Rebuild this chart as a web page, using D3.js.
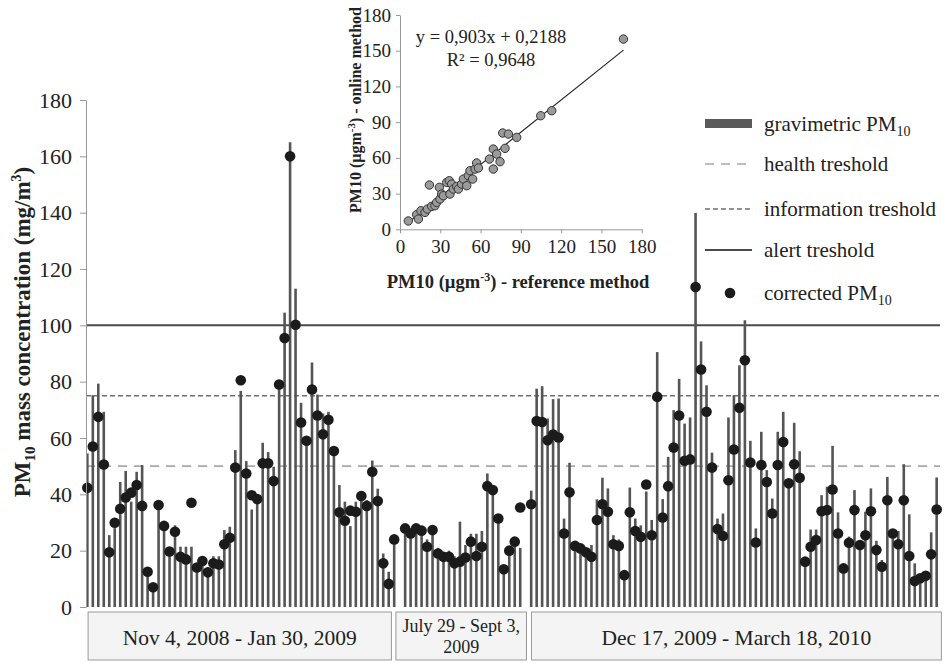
<!DOCTYPE html>
<html lang="en">
<head>
<meta charset="utf-8">
<script src="https://d3js.org/d3.v7.min.js"></script>
<style>
  body { margin: 0; background: #fff; }
  svg text { font-family: "Liberation Serif", "Times New Roman", serif; fill: #222; }
</style>
</head>
<body>
<script>
// gravimetric PM10 (bar tops) and corrected PM10 (dots), three campaigns
const seg1Grav = [54.5, 75.2, 79.3, 69.3, 25.5, 28, 44.4, 48.3, 37.4, 48, 50.4, 12.5, 7, 36, 28, 21, 29, 21.4, 21.4, 21.4,
  15, 17.5, 14, 18, 18, 27.3, 28.5, 55.7, 76.7, 51.8, 34.6, 37, 58.3, 55, 49.8, 77.5, 104.5, 165, 113, 72.5,
  60, 86.8, 75.4, 68.7, 69.3, 56.9, 43.3, 37.4, 28.7, 37.4, 40.9, 37.9, 52, 42, 19, 12.5, 24];
const seg1Corr = [42.3, 57, 67.5, 50.6, 19.4, 29.9, 34.9, 38.9, 40.6, 43.3, 35.9, 12.5, 7, 36.2, 28.8, 19.7, 26.7, 17.8, 16.9, 37,
  14, 16.3, 12.3, 15.5, 15.1, 22.3, 24.6, 49.5, 80.5, 47.4, 39.7, 38.3, 51, 51, 44.7, 79, 95.5, 160, 100.2, 65.5,
  59, 77.2, 68, 61.3, 66.5, 55.4, 33.6, 30.6, 34.2, 33.8, 39.4, 35.9, 48, 37.6, 15.5, 8.2, 24];

const seg2Grav = [28, 26, 28, 27, 24, 27, 21, 19, 20, 18, 30.3, 22, 26, 26, 27, 47.4, 41, 32, 14, 20, 24, 21];
const seg2Corr = [27.9, 26.1, 27.9, 27.1, 21.4, 27.3, 19, 17.8, 17.8, 15.5, 16.1, 17.6, 23.2, 18.1, 21.4, 42.9, 41.5, 31.4, 13.4, 20, 23.2, 35.3];

const seg3Grav = [41.3, 77.5, 78.4, 66.9, 73.8, 74, 31.4, 51.2, 23, 22, 21, 22, 38.2, 45.9, 42.1, 25.5, 24, 12, 42.4, 31.4,
  29, 41, 30.9, 90.5, 38.3, 53.3, 69.9, 81, 65.1, 67.3, 139.9, 94.3, 78.7, 54.8, 31.4, 33.2, 67.3, 75.2, 85.8, 101.8,
  59, 27.9, 62.2, 48.6, 38.5, 62.2, 69.3, 45, 65.4, 55.3, 17, 27.5, 27.5, 39.7, 42.7, 57.2, 33.6, 14.5, 25, 41.5,
  23, 33.8, 42.1, 23.5, 16.7, 46.2, 27, 27, 50.7, 32.9, 15.5, 11, 12, 26.5, 46];
const seg3Corr = [36.5, 66, 65.7, 59.2, 61.2, 60.2, 26.1, 40.7, 21.7, 20.8, 19.4, 17.8, 30.9, 36.5, 33.8, 22.3, 21.7, 11.3, 33.6, 27,
  24.9, 43.5, 25.5, 74.6, 31.8, 42.9, 56.6, 68, 51.9, 52.4, 113.6, 84.3, 69.3, 49.5, 27.7, 25.2, 45, 55.9, 70.7, 87.6,
  51.3, 22.9, 50.4, 44.4, 33.2, 50.4, 58.6, 43.9, 50.7, 45.9, 16.1, 21.4, 23.8, 34, 34.4, 41.7, 26.1, 13.7, 22.8, 34.4,
  22, 25.5, 34, 20.2, 14.3, 37.9, 26.1, 22.3, 37.9, 18.1, 9.2, 10.2, 11.1, 18.7, 34.6];

const thresholds = [
  {name: "health", value: 50},
  {name: "information", value: 75},
  {name: "alert", value: 100}
];
const yTicks = [0, 20, 40, 60, 80, 100, 120, 140, 160, 180];

// inset: reference vs online method
const refX =    [6.2, 12.4, 13.7, 15.6, 18.6, 20.4, 21.9, 23.6, 26, 27.3, 29.3, 29.8, 31, 32.3, 34.8, 36.7, 37.2, 38.5, 39.7, 42.2,
  43.5, 45.9, 47.2, 49.7, 50.9, 52.1, 54.1, 55.9, 57.1, 58.4, 66.6, 69.5, 69.5, 72, 74.5, 76.5, 78.2, 80.7, 86.9, 104.8, 113, 166.4];
const onlineY = [7, 12.3, 8.6, 15.6, 14.2, 17, 37.2, 19.3, 19.8, 22.6, 35.2, 25.4, 29.6, 28.2, 39.4, 40.8, 29.6, 38, 33.8, 36,
  33.8, 38, 42.2, 36.6, 45, 49.2, 42.2, 50.6, 55.7, 51.5, 59, 50.6, 67.4, 63.2, 56.8, 80.9, 68, 80, 77.2, 95.4, 99.6, 159.8];
const slope = 0.903, intercept = 0.2188;
const insetTicks = [0, 30, 60, 90, 120, 150, 180];

const periods = ["Nov 4, 2008 - Jan 30, 2009", ["July 29 - Sept  3,", "2009"], "Dec 17, 2009 - March 18, 2010"];

const width = 944, height = 663;
const svg = d3.select("body").append("svg").attr("width", width).attr("height", height);

// build slot list with a blank slot between campaigns
const slots = [];
[[seg1Grav, seg1Corr], [seg2Grav, seg2Corr], [seg3Grav, seg3Corr]].forEach((s, k) => {
  if (k > 0) slots.push({id: "gap" + k, gap: true});
  s[0].forEach((g, i) => slots.push({id: k + "_" + i, seg: k, grav: g, corr: s[1][i]}));
});
const days = slots.filter(d => !d.gap);

const x = d3.scaleBand().domain(slots.map(d => d.id)).range([84.6, 939.4]);
const y = d3.scaleLinear().domain([0, 180]).range([607, 100]);
const cx = d => x(d.id) + x.bandwidth() / 2;

// threshold lines
const tStyle = {
  health: {stroke: "#a9a9a9", w: 1.6, dash: "9,7"},
  information: {stroke: "#707070", w: 1.5, dash: "5,3"},
  alert: {stroke: "#4a4a4a", w: 2, dash: null}
};
svg.selectAll(".thr").data(thresholds).join("line")
  .attr("x1", 86).attr("x2", 940)
  .attr("y1", d => y(d.value)).attr("y2", d => y(d.value))
  .attr("stroke", d => tStyle[d.name].stroke)
  .attr("stroke-width", d => tStyle[d.name].w)
  .attr("stroke-dasharray", d => tStyle[d.name].dash);

// gravimetric bars
svg.selectAll(".bar").data(days).join("rect")
  .attr("x", d => cx(d) - 1.3).attr("width", 2.6)
  .attr("y", d => y(d.grav)).attr("height", d => y(0) - y(d.grav))
  .attr("fill", "#555");

// corrected dots
svg.selectAll(".dot").data(days).join("circle")
  .attr("cx", cx).attr("cy", d => y(d.corr)).attr("r", 5.3)
  .attr("fill", "#1b1b1b");

// y axis
const yAxis = svg.append("g").attr("transform", "translate(86,0)")
  .call(d3.axisLeft(y).tickValues(yTicks).tickSize(6).tickPadding(8).tickSizeOuter(0));
yAxis.select(".domain").attr("stroke", "#999");
yAxis.selectAll(".tick line").attr("stroke", "#999");
yAxis.selectAll(".tick text").attr("font-size", 22).attr("fill", "#333")
  .style("font-family", '"Liberation Serif", serif');

const yl = svg.append("text").attr("transform", "translate(30,332) rotate(-90)")
  .attr("text-anchor", "middle").attr("font-size", 23).attr("font-weight", "bold");
yl.append("tspan").text("PM");
yl.append("tspan").text("10").attr("font-size", 15).attr("dy", 5);
yl.append("tspan").text(" mass concentration (mg/m").attr("dy", -5);
yl.append("tspan").text("3").attr("font-size", 14).attr("dy", -9);
yl.append("tspan").text(")").attr("dy", 9);

// period boxes under the bars
const segIds = [0, 1, 2].map(k => days.filter(d => d.seg === k));
const pad = [[3.5, -5.5], [-6.5, 3.5], [3, 2]];
const boxes = segIds.map((s, k) => ({
  x0: x(s[0].id) + pad[k][0],
  x1: x(s[s.length - 1].id) + x.bandwidth() + pad[k][1],
  label: periods[k]
}));
const bg = svg.selectAll(".box").data(boxes).join("g");
bg.append("rect").attr("x", d => d.x0).attr("y", 612).attr("width", d => d.x1 - d.x0).attr("height", 48)
  .attr("fill", "#f4f4f4").attr("stroke", "#9a9a9a");
bg.each(function(d) {
  const g = d3.select(this), mid = (d.x0 + d.x1) / 2;
  if (Array.isArray(d.label)) {
    d.label.forEach((t, i) => g.append("text").attr("x", mid).attr("y", 632 + i * 21)
      .attr("text-anchor", "middle").attr("font-size", 18).text(t));
  } else {
    g.append("text").attr("x", mid).attr("y", 645).attr("text-anchor", "middle")
      .attr("font-size", 21.5).text(d.label);
  }
});

// legend
const lg = svg.append("g");
const lx = 705, lw = 47, tx = 764;
const rows = [124, 164, 209, 250, 293];
lg.append("rect").attr("x", lx).attr("y", rows[0] - 5).attr("width", lw).attr("height", 9).attr("fill", "#5a5a5a");
["health", "information", "alert"].forEach((n, i) => {
  lg.append("line").attr("x1", lx).attr("x2", lx + lw).attr("y1", rows[i + 1]).attr("y2", rows[i + 1])
    .attr("stroke", tStyle[n].stroke).attr("stroke-width", tStyle[n].w).attr("stroke-dasharray", tStyle[n].dash);
});
lg.append("circle").attr("cx", 730).attr("cy", rows[4]).attr("r", 5.3).attr("fill", "#1b1b1b");
const ltxt = [["gravimetric PM", "10"], ["health treshold"], ["information treshold"], ["alert treshold"], ["corrected PM", "10"]];
ltxt.forEach((t, i) => {
  const te = lg.append("text").attr("x", tx).attr("y", rows[i] + 7).attr("font-size", 21);
  te.append("tspan").text(t[0]);
  if (t[1]) te.append("tspan").text(t[1]).attr("font-size", 14).attr("dy", 5);
});

// inset scatter
const ix = d3.scaleLinear().domain([0, 180]).range([400, 641.7]);
const iy = d3.scaleLinear().domain([0, 180]).range([229.3, 15]);
const ixa = svg.append("g").attr("transform", "translate(0,229.3)")
  .call(d3.axisBottom(ix).tickValues(insetTicks).tickSize(4).tickPadding(6).tickSizeOuter(0));
const iya = svg.append("g").attr("transform", "translate(400,0)")
  .call(d3.axisLeft(iy).tickValues(insetTicks).tickSize(4).tickPadding(5).tickSizeOuter(0));
[ixa, iya].forEach(a => {
  a.select(".domain").attr("stroke", "#999");
  a.selectAll(".tick line").attr("stroke", "#999");
  a.selectAll(".tick text").attr("font-size", 19).attr("fill", "#333")
    .style("font-family", '"Liberation Serif", serif');
});

const pts = refX.map((v, i) => ({x: v, y: onlineY[i]}));
const xr = d3.extent(refX);
svg.append("line")
  .attr("x1", ix(xr[0])).attr("y1", iy(slope * xr[0] + intercept))
  .attr("x2", ix(xr[1])).attr("y2", iy(slope * xr[1] + intercept))
  .attr("stroke", "#222").attr("stroke-width", 1.2);
svg.selectAll(".pt").data(pts).join("circle")
  .attr("cx", d => ix(d.x)).attr("cy", d => iy(d.y)).attr("r", 4.2)
  .attr("fill", "#9a9a9a").attr("stroke", "#333").attr("stroke-width", 1);

svg.append("text").attr("x", 491).attr("y", 43).attr("text-anchor", "middle").attr("font-size", 18.5)
  .text("y = " + String(slope).replace(".", ",") + "x + " + String(intercept).replace(".", ","));
svg.append("text").attr("x", 491).attr("y", 66).attr("text-anchor", "middle").attr("font-size", 18.5)
  .text("R² = 0,9648");

const ixl = svg.append("text").attr("x", 518).attr("y", 288).attr("text-anchor", "middle")
  .attr("font-size", 18.5).attr("font-weight", "bold");
ixl.append("tspan").text("PM10 (µgm");
ixl.append("tspan").text("-3").attr("font-size", 12).attr("dy", -7);
ixl.append("tspan").text(") - reference method").attr("dy", 7);

const iyl = svg.append("text").attr("transform", "translate(361,110) rotate(-90)").attr("text-anchor", "middle")
  .attr("font-size", 16).attr("font-weight", "bold");
iyl.append("tspan").text("PM10 (µgm");
iyl.append("tspan").text("-3").attr("font-size", 11).attr("dy", -6);
iyl.append("tspan").text(") - online method").attr("dy", 6);
</script>
</body>
</html>
